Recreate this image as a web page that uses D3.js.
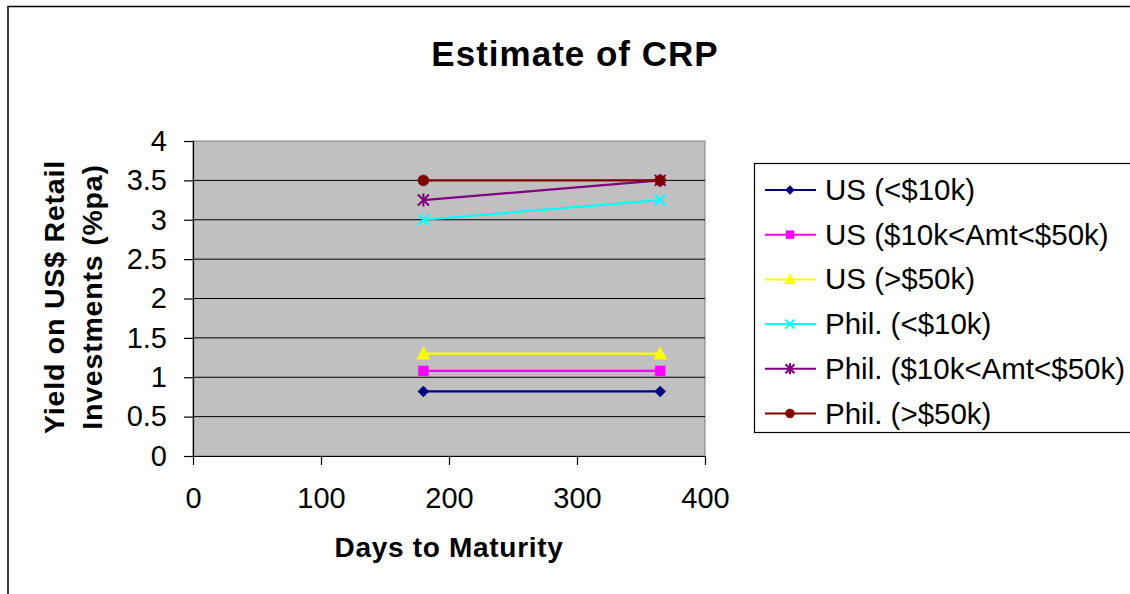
<!DOCTYPE html>
<html><head><meta charset="utf-8">
<script src="https://cdn.jsdelivr.net/npm/d3@7"></script>
<style>body{margin:0;background:#fff}svg{display:block;font-family:Arial,"Liberation Sans",sans-serif}</style>
</head><body><svg id="c" width="1130" height="594"></svg>
<script>
const days = [180, 365];
const seriesNames = ["US (<$10k)", "US ($10k<Amt<$50k)", "US (>$50k)", "Phil. (<$10k)", "Phil. ($10k<Amt<$50k)", "Phil. (>$50k)"];
const usLow = [0.82, 0.82];
const usMid = [1.08, 1.08];
const usHigh = [1.3, 1.3];
const phLow = [3.0, 3.25];
const phMid = [3.25, 3.5];
const phHigh = [3.5, 3.5];
const xTicks = [0, 100, 200, 300, 400];
const yTicks = [0, 0.5, 1, 1.5, 2, 2.5, 3, 3.5, 4];
const colors = ["#000080", "#FF00FF", "#FFFF00", "#00FFFF", "#800080", "#800000"];
const markers = ["diamond", "square", "triangle", "x", "star", "circle"];
const values = [usLow, usMid, usHigh, phLow, phMid, phHigh];

const svg = d3.select("#c");
// outer chart border
svg.append("path").attr("d","M8,600 V6.5 H1140").attr("fill","none").attr("stroke","#000").attr("stroke-width",1.5);

const L = 193, R = 705, T = 141, B = 456;
const x = d3.scaleLinear().domain([0, 400]).range([L, R]);
const y = d3.scaleLinear().domain([0, 4]).range([B, T]);

svg.append("rect").attr("x",L).attr("y",T).attr("width",R-L).attr("height",B-T).attr("fill","#C0C0C0").attr("stroke","#808080").attr("stroke-width",1);

// gridlines
svg.append("g").selectAll("line").data(yTicks.filter(d=>d>0 && d<4)).join("line")
  .attr("x1",L).attr("x2",R).attr("y1",d=>y(d)).attr("y2",d=>y(d)).attr("stroke","#000").attr("stroke-width",1);

// axes
const ya = svg.append("g").attr("transform",`translate(${L},0)`)
  .call(d3.axisLeft(y).tickValues(yTicks).tickSize(9).tickPadding(17).tickFormat(d=>d3.format("")(d)));
const xa = svg.append("g").attr("transform",`translate(0,${B})`)
  .call(d3.axisBottom(x).tickValues(xTicks).tickSize(9).tickPadding(22));
[ya, xa].forEach(a=>{
  a.select(".domain").attr("stroke","#000").attr("stroke-width",1.2);
  a.selectAll(".tick line").attr("stroke","#000").attr("stroke-width",1.2);
  a.selectAll("text").attr("font-size",29).attr("fill","#000").attr("font-family","Arial, 'Liberation Sans', sans-serif");
});
xa.select(".domain").attr("d",`M${L},0.5H${R}`);
ya.select(".domain").attr("d",`M0.5,${T}V${B}`);

function markerPath(type, s){
  switch(type){
    case "diamond": return `M0,${-s}L${s},0L0,${s}L${-s},0Z`;
    case "square": return `M${-s},${-s}H${s}V${s}H${-s}Z`;
    case "triangle": return `M0,${-s-1.5}L${s+1},${s}L${-s-1},${s}Z`;
    case "circle": return d3.symbol(d3.symbolCircle, Math.PI*s*s)();
    case "x": return `M${-s},${-s}L${s},${s}M${-s},${s}L${s},${-s}`;
    case "star": return `M${-s},${-s}L${s},${s}M${-s},${s}L${s},${-s}M0,${-s-1}V${s+1}`;
  }
}
function drawMarker(g, type, color, cx, cy, s){
  const stroked = type==="x" || type==="star";
  g.append("path").attr("d", markerPath(type, s)).attr("transform",`translate(${cx},${cy})`)
    .attr("fill", stroked ? "none" : color).attr("stroke", color).attr("stroke-width", stroked ? 2 : 0.5);
}

const line = d3.line().x((d,i)=>x(days[i])).y(d=>y(d));
values.forEach((vals,k)=>{
  const g = svg.append("g");
  g.append("path").datum(vals).attr("d", line).attr("fill","none").attr("stroke",colors[k]).attr("stroke-width",2.2);
  vals.forEach((v,i)=>drawMarker(g, markers[k], colors[k], x(days[i]), y(v), markers[k]==="square"?5:5.5));
});

// title
svg.append("text").attr("x",575).attr("y",66).attr("text-anchor","middle").attr("font-size",35).attr("letter-spacing",1).attr("font-weight","bold").text("Estimate of CRP");
// x label
svg.append("text").attr("x",449).attr("y",557).attr("text-anchor","middle").attr("font-size",28).attr("letter-spacing",0.7).attr("font-weight","bold").text("Days to Maturity");
// y label
const yl = svg.append("text").attr("transform","translate(0,297) rotate(-90)").attr("text-anchor","middle").attr("font-size",28.5).attr("letter-spacing",0.8).attr("font-weight","bold");
yl.append("tspan").attr("x",0).attr("y",63.5).text("Yield on US$ Retail");
yl.append("tspan").attr("x",0).attr("y",101.5).text("Investments (%pa)");

// legend
const lg = svg.append("g");
lg.append("rect").attr("x",754.5).attr("y",163.5).attr("width",390).attr("height",269).attr("fill","#fff").attr("stroke","#000").attr("stroke-width",1.2);
seriesNames.forEach((n,k)=>{
  const cy = 190 + k*44.7;
  lg.append("line").attr("x1",765).attr("x2",816).attr("y1",cy).attr("y2",cy).attr("stroke",colors[k]).attr("stroke-width",2);
  drawMarker(lg, markers[k], colors[k], 790, cy, markers[k]==="square"?4:4.5);
  lg.append("text").attr("x",825).attr("y",cy+10).attr("font-size",29.5).text(n);
});
</script></body></html>
